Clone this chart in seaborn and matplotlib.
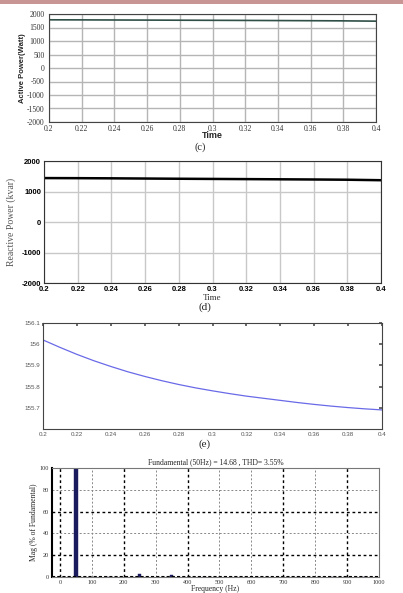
import numpy as np
import pandas as pd
import matplotlib
matplotlib.use("Agg")
import matplotlib.pyplot as plt
import seaborn as sns
from matplotlib.patches import Rectangle

sns.set_theme(style="white")
plt.rcParams["axes.unicode_minus"] = False

# ---- data ----
time = [0.20, 0.22, 0.24, 0.26, 0.28, 0.30, 0.32, 0.34, 0.36, 0.38, 0.40]
active_power = [1785, 1782, 1778, 1774, 1770, 1766, 1762, 1757, 1752, 1746, 1735]
reactive_power = [1440, 1437, 1432, 1425, 1418, 1412, 1406, 1400, 1394, 1386, 1370]
time_fine = [0.20, 0.21, 0.22, 0.23, 0.24, 0.25, 0.26, 0.27, 0.28, 0.29, 0.30,
             0.31, 0.32, 0.33, 0.34, 0.35, 0.36, 0.37, 0.38, 0.39, 0.40]
voltage = [156.02, 155.985, 155.952, 155.922, 155.895, 155.870, 155.848, 155.828,
           155.810, 155.794, 155.780, 155.767, 155.755, 155.745, 155.735, 155.725,
           155.716, 155.708, 155.701, 155.695, 155.690]
harm_freq = [50, 150, 250, 350, 450, 550, 650, 750, 850, 950]
harm_mag = [100, 0.4, 2.5, 1.4, 0.3, 0.4, 0.3, 0.2, 0.2, 0.2]

time_ticks = [0.2, 0.22, 0.24, 0.26, 0.28, 0.3, 0.32, 0.34, 0.36, 0.38, 0.4]
time_labels = ["0.2", "0.22", "0.24", "0.26", "0.28", "0.3", "0.32", "0.34", "0.36", "0.38", "0.4"]

W, H = 403, 593
fig = plt.figure(figsize=(W / 100, H / 100), dpi=100)
fig.patch.set_facecolor("white")
fig.patches.append(Rectangle((0, 1 - 4 / H), 1, 4 / H, transform=fig.transFigure,
                             facecolor="#c99494", edgecolor="none"))

def ax_at(l, t, r, b):
    return fig.add_axes([l / W, 1 - b / H, (r - l) / W, (b - t) / H])

serif = "Liberation Serif"
sans = "Liberation Sans"

# ---- (c) Active power ----
ax1 = ax_at(49, 14, 376, 122)
df1 = pd.DataFrame({"t": time, "p": active_power})
sns.lineplot(data=df1, x="t", y="p", ax=ax1, color="#2f4f47", linewidth=1.2)
ax1.set_xlim(0.2, 0.4)
ax1.set_ylim(-2000, 2000)
ax1.set_xticks(time_ticks)
ax1.set_xticklabels(time_labels)
ax1.set_yticks(np.arange(-2000, 2001, 500))
ax1.grid(True, color="#b5b5b5", linewidth=1.0)
ax1.tick_params(direction="in", length=2, labelsize=5.5, colors="#333333")
ax1.tick_params(axis="x", pad=2)
ax1.tick_params(axis="y", pad=3)
for lab in ax1.get_xticklabels() + ax1.get_yticklabels():
    lab.set_family(serif)
ax1.set_xlabel("Time", fontsize=6.5, fontweight="bold", family=sans, labelpad=-1)
ax1.set_ylabel("Active Power(Watt)", fontsize=5.5, fontweight="bold", family=sans, labelpad=1)
for s in ax1.spines.values():
    s.set_color("#444444"); s.set_linewidth(0.8)
fig.text(200 / W, 1 - 147 / H, "(c)", ha="center", va="center", fontsize=7.5, family=serif)

# ---- (d) Reactive power ----
ax2 = ax_at(44, 161, 381, 283)
df2 = pd.DataFrame({"t": time, "q": reactive_power})
sns.lineplot(data=df2, x="t", y="q", ax=ax2, color="black", linewidth=1.8)
ax2.set_xlim(0.2, 0.4)
ax2.set_ylim(-2000, 2000)
ax2.set_xticks(time_ticks)
ax2.set_xticklabels(time_labels)
ax2.set_yticks([-2000, -1000, 0, 1000, 2000])
ax2.grid(True, color="#c8c8c8", linewidth=1.0)
ax2.tick_params(direction="in", length=2, labelsize=5.5, pad=2, colors="black")
for lab in ax2.get_xticklabels() + ax2.get_yticklabels():
    lab.set_family(sans); lab.set_fontweight("bold")
ax2.set_xlabel("Time", fontsize=6.5, family=serif, color="#333333", labelpad=1)
ax2.set_ylabel("Reactive Power (kvar)", fontsize=7, family=serif, color="#555555", labelpad=4)
for s in ax2.spines.values():
    s.set_color("#333333"); s.set_linewidth(0.8)
fig.text(205 / W, 1 - 307 / H, "(d)", ha="center", va="center", fontsize=8, family=serif)

# ---- (e) Voltage ----
ax3 = ax_at(43, 323, 382, 429)
df3 = pd.DataFrame({"t": time_fine, "v": voltage})
sns.lineplot(data=df3, x="t", y="v", ax=ax3, color="#6a6ae8", linewidth=0.9)
ax3.set_xlim(0.2, 0.4)
ax3.set_ylim(155.6, 156.1)
ax3.set_xticks(time_ticks)
ax3.set_xticklabels(time_labels)
ax3.set_yticks([155.7, 155.8, 155.9, 156.0, 156.1])
ax3.set_yticklabels(["155.7", "155.8", "155.9", "156", "156.1"])
ax3.tick_params(direction="in", length=2.5, labelsize=4.5, pad=2, colors="#555555",
                top=True, right=True)
for lab in ax3.get_xticklabels() + ax3.get_yticklabels():
    lab.set_family(sans)
ax3.set_xlabel(""); ax3.set_ylabel("")
for s in ax3.spines.values():
    s.set_color("#444444"); s.set_linewidth(0.8)
fig.text(205 / W, 1 - 444 / H, "(e)", ha="center", va="center", fontsize=8, family=serif)

# ---- (f) FFT spectrum ----
ax4 = ax_at(52, 468, 379, 577)
df4 = pd.DataFrame({"f": harm_freq, "m": harm_mag})
sns.barplot(data=df4, x="f", y="m", ax=ax4, native_scale=True, color="#1a1a5e",
            saturation=1, width=0.1, edgecolor="#1a1a5e", linewidth=0.3)
ax4.set_xlim(-25, 1000)
ax4.set_ylim(0, 100)
ax4.set_xticks(np.arange(0, 1001, 100))
ax4.set_yticks(np.arange(0, 101, 20))
for xv in range(0, 1000, 100):
    dark = xv in (0, 200, 400, 700, 900)
    ax4.axvline(xv, color="black" if dark else "#888888", linestyle=(0, (2, 2)),
                linewidth=1.0 if dark else 0.7, zorder=0)
for yv in (20, 40, 60, 80):
    dark = yv in (20, 60)
    ax4.axhline(yv, color="black" if dark else "#888888", linestyle=(0, (2, 2)),
                linewidth=1.0 if dark else 0.7, zorder=0)
ax4.axhline(0, color="black", linestyle=(0, (1.5, 1)), linewidth=1.5, zorder=3)
ax4.tick_params(direction="in", length=2, labelsize=4.5, pad=2, colors="#333333")
for lab in ax4.get_xticklabels() + ax4.get_yticklabels():
    lab.set_family(serif)
ax4.set_title("Fundamental (50Hz) = 14.68 , THD= 3.55%", fontsize=5.5, family=serif, pad=3)
ax4.set_xlabel("Frequency (Hz)", fontsize=5.5, family=serif, labelpad=0)
ax4.set_ylabel("Mag (% of Fundamental)", fontsize=5.5, family=serif, labelpad=1)
for name, s in ax4.spines.items():
    s.set_color("#777777"); s.set_linewidth(0.8)
ax4.spines["left"].set_color("black"); ax4.spines["left"].set_linewidth(1.5)

fig.savefig("out.png", dpi=100)
